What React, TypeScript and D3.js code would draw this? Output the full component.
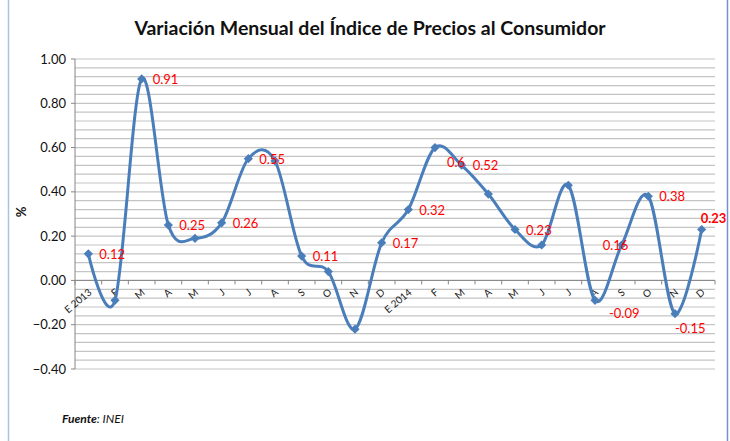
import * as d3 from "d3";

const months = [
  "E 2013", "F", "M", "A", "M", "J", "J", "A", "S", "O", "N", "D",
  "E 2014", "F", "M", "A", "M", "J", "J", "A", "S", "O", "N", "D",
];

const ipcValues = [
  0.12, -0.09, 0.91, 0.25, 0.19, 0.26, 0.55, 0.54, 0.11, 0.04, -0.22, 0.17,
  0.32, 0.6, 0.52, 0.39, 0.23, 0.16, 0.43, -0.09, 0.16, 0.38, -0.15, 0.23,
];

// which points carry a data label (the rest are hidden like in the original)
const labelShown = [
  true, false, true, true, false, true, true, false, true, false, false, true,
  true, true, true, false, true, false, false, true, true, true, true, true,
];

const yMajorTicks = [-0.4, -0.2, 0, 0.2, 0.4, 0.6, 0.8, 1.0];

const W = 730;
const H = 441;
const FONT = "Lato, 'Open Sans', sans-serif";
const LINE = "#4a7ebb";

// label placement tweaks per point: [dx, dy] from point center to text baseline start
const labelOffset: Record<number, [number, number]> = {
  13: [12, 19],
  19: [14, 18],
  20: [-19, 5],
  22: [0, 19],
  23: [-1, -7],
};

export default function App() {
  const x = d3.scaleBand<number>().domain(d3.range(months.length)).range([75, 715]);
  const y = d3.scaleLinear().domain([-0.4, 1.0]).range([369, 59]);
  const cx = (i: number) => (x(i) ?? 0) + x.bandwidth() / 2;

  const gridVals = d3.range(0, 36).map((k) => -0.4 + k * 0.04);

  const line = d3
    .line<number>()
    .x((_, i) => cx(i))
    .y((d) => y(d))
    .curve(d3.curveCardinal.tension(0));

  const diamond = d3.symbol(d3.symbolSquare, 42)();
  const y0 = y(0);
  const boundaries = d3.range(months.length + 1).map((i) => 75 + i * x.bandwidth());

  return (
    <svg
      width={W}
      height={H}
      style={{ position: "absolute", left: 0, top: 0, background: "#fff" }}
      fontFamily={FONT}
    >
      <rect x={0} y={0} width={W} height={H} fill="#fff" />
      <line x1={8.5} x2={8.5} y1={0} y2={H} stroke="#a9c1e2" strokeWidth={1.5} />
      <line x1={727.5} x2={727.5} y1={0} y2={H} stroke="#6f93cf" strokeWidth={1.5} />

      <text x={370} y={35} textAnchor="middle" fontSize={19.5} fontWeight="bold" fill="#111">
        Variación Mensual del Índice de Precios al Consumidor
      </text>

      {/* gridlines */}
      {gridVals.map((v, i) => (
        <line key={i} x1={75} x2={715} y1={y(v)} y2={y(v)} stroke="#c4c4c4" strokeWidth={1.2} />
      ))}

      {/* y axis */}
      <line x1={75} x2={75} y1={59} y2={369} stroke="#868686" />
      {yMajorTicks.map((v) => (
        <g key={v}>
          <line x1={71} x2={75} y1={y(v)} y2={y(v)} stroke="#868686" />
          <text x={66} y={y(v) + 4.5} textAnchor="end" fontSize={13} fill="#111">
            {d3.format(".2f")(v)}
          </text>
        </g>
      ))}
      <text
        transform={`translate(26,212) rotate(-90)`}
        textAnchor="middle"
        fontSize={13}
        fontWeight="bold"
        fill="#111"
      >
        %
      </text>

      {/* x axis through zero */}
      <line x1={75} x2={715} y1={y0} y2={y0} stroke="#868686" />
      {boundaries.map((bx, i) => (
        <line key={i} x1={bx} x2={bx} y1={y0} y2={y0 + 4} stroke="#868686" />
      ))}
      {months.map((m, i) => (
        <text
          key={i}
          transform={`translate(${cx(i) + 4},${y0 + 13}) rotate(-40)`}
          textAnchor="end"
          fontSize={10}
          fill="#222"
        >
          {m}
        </text>
      ))}

      {/* series */}
      <path d={line(ipcValues) ?? ""} fill="none" stroke={LINE} strokeWidth={3} />
      {ipcValues.map((v, i) => (
        <path
          key={i}
          d={diamond ?? ""}
          transform={`translate(${cx(i)},${y(v)}) rotate(45)`}
          fill={LINE}
        />
      ))}

      {/* data labels */}
      {ipcValues.map((v, i) => {
        if (!labelShown[i]) return null;
        const [dx, dy] = labelOffset[i] ?? [11, 5];
        return (
          <text
            key={i}
            x={cx(i) + dx}
            y={y(v) + dy}
            fontSize={13}
            fill="#ff0000"
            fontWeight={i === months.length - 1 ? "bold" : "normal"}
          >
            {String(v)}
          </text>
        );
      })}

      <text x={62} y={423} fontSize={12} fontStyle="italic" fill="#111">
        <tspan fontWeight="bold">Fuente</tspan>: INEI
      </text>
    </svg>
  );
}
